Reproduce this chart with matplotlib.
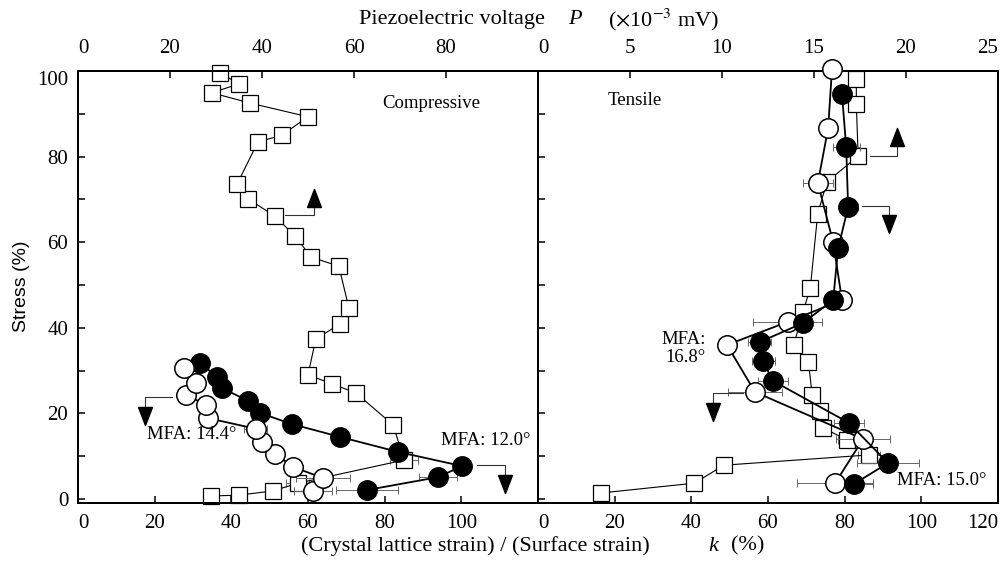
import numpy as np
import matplotlib
matplotlib.use("Agg")
import matplotlib.pyplot as plt

plt.rcParams['font.family'] = ['Liberation Serif', 'DejaVu Serif']
plt.rcParams['mathtext.fontset'] = 'stix'

# ---- left panel (compressive) ----
sqL_stress = [0.7, 0.9, 1.9, 3.7, 9.1, 17.3, 24.8, 26.9, 29.0, 37.4, 40.9, 44.6, 54.4,
              56.5, 61.4, 66.1, 70.1, 73.6, 83.4, 85.0, 89.3, 92.5, 94.9, 97.0, 99.5]
sqL_P = [28.9, 35.0, 42.4, 47.8, 70.9, 68.5, 60.4, 55.2, 50.0, 51.7, 57.0, 58.9, 56.7,
         50.7, 47.2, 42.8, 37.0, 34.6, 39.1, 44.3, 50.0, 37.4, 29.1, 35.0, 30.9]
sqL_err = [0, 0, 1.7, 2.5, 3.0] + [0] * 20

fiL_stress = [2.1, 5.1, 7.7, 11.0, 14.5, 17.5, 20.1, 22.9, 25.9, 28.5, 31.8]
fiL_k = [75.4, 93.9, 100.2, 83.5, 68.4, 55.8, 47.5, 44.4, 37.6, 36.3, 31.8]
fiL_err = [8, 5, 0, 0, 0, 0, 0, 0, 0, 0, 0]

opL_stress = [1.9, 4.9, 7.5, 10.5, 13.3, 16.4, 18.9, 22.0, 24.3, 27.1, 30.6]
opL_k = [61.3, 63.9, 56.1, 51.4, 48.0, 46.4, 33.9, 33.4, 28.2, 30.8, 27.7]
opL_err = [5, 7, 0, 0, 0, 3, 0, 0, 0, 0, 0]

# ---- right panel (tensile) ----
sqR_stress = [1.4, 3.7, 7.9, 10.3, 13.8, 16.6, 20.6, 24.3, 32.0, 36.0, 43.7, 49.3,
              66.6, 74.1, 80.1, 92.3, 98.1]
sqR_P = [3.4, 8.5, 10.1, 18.0, 16.8, 15.5, 15.3, 14.9, 14.7, 13.9, 14.4, 14.8,
         15.2, 15.7, 17.4, 17.3, 17.3]
sqR_err = [0, 0, 0, 0.6, 0.5, 0, 0, 0, 0, 0, 0, 0, 0.4, 0, 0, 0, 0]

fiR_stress = [3.5, 8.4, 17.8, 27.6, 32.2, 36.7, 41.1, 46.5, 58.6, 68.2, 82.2, 94.6]
fiR_k = [82.4, 91.3, 81.1, 61.3, 58.7, 57.9, 69.1, 77.0, 78.3, 80.9, 80.4, 79.3]
fiR_err = [5, 8, 4, 4, 3, 3, 0, 0, 0, 2.5, 3.5, 0]

opR_stress = [3.7, 14.0, 25.0, 36.0, 41.4, 46.5, 60.0, 73.8, 86.7, 100.5]
opR_k = [77.5, 84.8, 56.6, 49.3, 65.2, 79.3, 77.0, 73.0, 75.7, 76.7]
opR_err = [10, 7, 7, 0, 9, 0, 0, 4, 0, 0]

# arrows: (x from, x to, y of line, y of head, direction) in k / stress units
arrowsL = [(54.0, 61.6, 66.4, 70.4, 'up'), (24.5, 17.5, 23.8, 19.3, 'down'),
           (104.1, 111.4, 7.9, 3.6, 'down')]
arrowsR = [(86.6, 93.7, 80.1, 84.5, 'up'), (84.5, 91.6, 68.5, 64.3, 'down'),
           (53.5, 45.7, 24.8, 20.4, 'down')]

up_tri = [(-1, -1.3), (1, -1.3), (0, 1.3), (-1, -1.3)]
down_tri = [(-1, 1.3), (1, 1.3), (0, -1.3), (-1, 1.3)]

fig = plt.figure(figsize=(10, 5.62), dpi=100)
axL = fig.add_axes([0.078, 0.105, 0.46, 0.7687])
axR = fig.add_axes([0.538, 0.105, 0.46, 0.7687])
FS = 15


def setup(ax, Pmax, Pticks, left):
    tw = ax.twiny()
    ax.set_zorder(tw.get_zorder() + 1)
    ax.patch.set_visible(False)
    ax.set_xlim(0, 120)
    ax.set_ylim(-0.93, 100)
    tw.set_xlim(0, Pmax)
    for a in (ax, tw):
        for s in a.spines.values():
            s.set_linewidth(1.4)
    ax.set_yticks(np.arange(0, 101, 10))
    ax.tick_params(axis='y', direction='in', length=5, width=1.1, labelsize=FS, pad=7)
    ax.tick_params(axis='x', direction='in', length=5, width=1.1, labelsize=FS, pad=8)
    tw.tick_params(axis='x', direction='in', length=5, width=1.1, labelsize=FS, pad=9)
    if left:
        ax.set_xticks(np.arange(0, 121, 20), ['0', '20', '40', '60', '80', '100', ''])
        ax.set_yticklabels(['0', '', '20', '', '40', '', '60', '', '80', '', '100'])
        ylab = ax.get_yticklabels()
        ylab[-1].set_va('top')
        tw.set_xticks(Pticks, [str(v) for v in Pticks[:-1]] + [''])
    else:
        ax.set_xticks(np.arange(0, 121, 20), [str(v) for v in range(0, 121, 20)])
        ax.set_yticklabels([])
        tw.set_xticks(Pticks, [str(v) for v in Pticks])
        ax.get_xticklabels()[-1].set_ha('right')
        tw.get_xticklabels()[-1].set_ha('right')
    ax.get_xticklabels()[0].set_ha('left')
    tw.get_xticklabels()[0].set_ha('left')
    return tw


twL = setup(axL, 100, [0, 20, 40, 60, 80, 100], True)
twR = setup(axR, 25, [0, 5, 10, 15, 20, 25], False)


def draw(ax, tw, sq_s, sq_P, sq_e, fi_s, fi_k, fi_e, op_s, op_k, op_e, arrows, open_on_top):
    tw.errorbar(sq_P, sq_s, xerr=sq_e, fmt='none', ecolor='#666666', elinewidth=0.7,
                capsize=3, capthick=0.7, zorder=1, clip_on=False)
    tw.plot(sq_P, sq_s, '-s', color='black', lw=0.8, ms=11, mfc='white', mec='black',
            mew=0.9, zorder=2, clip_on=False)
    ax.errorbar(fi_k, fi_s, xerr=fi_e, fmt='none', ecolor='#666666', elinewidth=0.7,
                capsize=3, capthick=0.7, zorder=1, clip_on=False)
    ax.errorbar(op_k, op_s, xerr=op_e, fmt='none', ecolor='#666666', elinewidth=0.7,
                capsize=3, capthick=0.7, zorder=1, clip_on=False)
    zf, zo = (3, 4) if open_on_top else (4, 3)
    ax.plot(fi_k, fi_s, '-o', color='black', lw=1.3, ms=14, mfc='black', mec='black',
            zorder=zf, clip_on=False)
    ax.plot(op_k, op_s, '-o', color='black', lw=1.3, ms=14, mfc='white', mec='black',
            mew=1.1, zorder=zo, clip_on=False)
    for x0, x1, yl, yh, d in arrows:
        ax.plot([x0, x1, x1], [yl, yl, yh], color='#333333', lw=0.8, zorder=5)
        ax.plot([x1], [yh], marker=up_tri if d == 'up' else down_tri, ms=13,
                color='black', zorder=6)


draw(axL, twL, sqL_stress, sqL_P, sqL_err, fiL_stress, fiL_k, fiL_err,
     opL_stress, opL_k, opL_err, arrowsL, True)
draw(axR, twR, sqR_stress, sqR_P, sqR_err, fiR_stress, fiR_k, fiR_err,
     opR_stress, opR_k, opR_err, arrowsR, False)

TS = 13.5
axL.text(92.1, 92.5, 'Compressive', fontsize=TS, ha='center', va='center', zorder=7)
axR.text(25.3, 93.2, 'Tensile', fontsize=TS, ha='center', va='center', zorder=7)
axL.text(29.7, 15.0, 'MFA: 14.4°', fontsize=TS, ha='center', va='center', zorder=7)
axL.text(106.4, 13.6, 'MFA: 12.0°', fontsize=TS, ha='center', va='center', zorder=7)
axR.text(43.8, 35.2, 'MFA:\n16.8°', fontsize=TS, ha='right', va='center',
         multialignment='right', linespacing=1.05, zorder=7)
axR.text(105.4, 4.4, 'MFA: 15.0°', fontsize=TS, ha='center', va='center', zorder=7)

# axis titles
TT = 16
fig.text(0.545, 0.965, 'Piezoelectric voltage', fontsize=TT, ha='right', va='center')
fig.text(0.575, 0.965, 'P', fontsize=TT, style='italic', ha='center', va='center')
fig.text(0.608, 0.965, r'($\times$10$^{-3}$ mV)', fontsize=TT, ha='left', va='center')
fig.text(0.650, 0.028, '(Crystal lattice strain) / (Surface strain)', fontsize=TT,
         ha='right', va='center')
fig.text(0.713, 0.028, 'k', fontsize=TT, style='italic', ha='center', va='center')
fig.text(0.748, 0.028, '(%)', fontsize=TT, ha='center', va='center')
fig.text(0.022, 0.49, 'Stress (%)', fontsize=14, rotation=90, ha='center', va='center',
         family=['Liberation Sans', 'DejaVu Sans'])

fig.savefig('out.png', dpi=100)
